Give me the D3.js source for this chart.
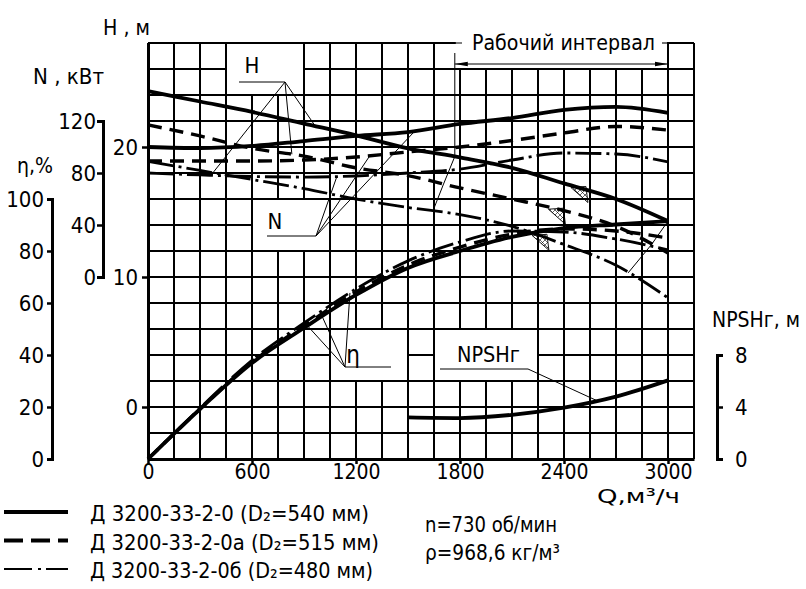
<!DOCTYPE html>
<html><head><meta charset="utf-8">
<script src="https://cdn.jsdelivr.net/npm/d3@7"></script>
<style>
body{margin:0;background:#fff}
svg{display:block}
text{font-family:"Liberation Sans Narrow","DejaVu Sans Condensed","Arial Narrow",sans-serif;fill:#000}
</style>
</head><body>
<svg id="c" width="806" height="589"></svg>
<script>
// ---------- data ----------
const Q = [0,300,600,900,1200,1500,1800,2100,2400,2700,3000];
const H540 = [24.3,23.5,22.7,21.8,20.9,19.9,19.2,18.4,17.2,16.0,14.3];
const H515 = [21.7,20.85,19.9,19.3,18.4,17.8,16.85,16.0,15.1,13.9,11.85];
const H480 = [18.9,18.2,17.5,16.8,16.0,15.35,14.8,13.9,12.5,10.9,8.4];
const N540 = [100,99.2,100.8,104.6,108.5,111.5,117.7,122.3,128.5,130.8,126.2];
const N515 = [89.2,89.2,89.2,90,92.3,96.2,100,105,110.8,115.8,113];
const N480 = [80,78.5,77.3,76.9,77.7,80,83,90,95.4,94.6,88.5];
const E540 = [0,19.2,36.9,50.4,63.1,73.5,80,85.4,88.8,90.2,91.5];
const E515 = [0,19.2,37.3,51.2,64.2,74.6,81.5,86.5,88.5,87.7,85];
const E480 = [0,19.6,38,52.3,65.4,76.2,83.5,87.7,87.3,84.6,80.4];
const Qnp = [1500,1800,2100,2400,2700,3000];
const NPSH = [3.2,3.15,3.4,3.95,4.8,6.05];
const xTicks = [0,600,1200,1800,2400,3000];
const hTicks = [0,10,20];
const nTicks = [0,40,80,120];
const eTicks = [0,20,40,60,80,100];
const pTicks = [0,4,8];
const workRange = [1770,3000];
const legendRows = [
  {label:"Д 3200-33-2-0 (D₂=540 мм)", style:"solid", w:279},
  {label:"Д 3200-33-2-0а (D₂=515 мм)", style:"dashed", w:289},
  {label:"Д 3200-33-2-0б (D₂=480 мм)", style:"dashdot", w:283}
];

// ---------- setup ----------
const svg = d3.select("#c");
svg.append("rect").attr("width",806).attr("height",589).attr("fill","#fff");
const defs = svg.append("defs");
const pat = defs.append("pattern").attr("id","hatch").attr("width",5).attr("height",5)
  .attr("patternUnits","userSpaceOnUse");
pat.append("path").attr("d","M0,0L5,5M5,0L0,5").attr("stroke","#000").attr("stroke-width",0.6);

const x = d3.scaleLinear().domain([0,3150]).range([148,694]);
const yH = d3.scaleLinear().domain([-4,28]).range([459,43]);
const yN = d3.scaleLinear().domain([0,120]).range([277,121]);
const yE = d3.scaleLinear().domain([0,100]).range([459,199]);
const yP = d3.scaleLinear().domain([0,8]).range([459,355]);

const styles = {
  solid:{w:3.8, dash:null},
  dashed:{w:3.4, dash:"14,8"},
  dashdot:{w:2.8, dash:"26,5,3,5"}
};

// ---------- grid ----------
const grid = svg.append("g").attr("stroke","#000").attr("stroke-width",1.1).attr("shape-rendering","crispEdges");
grid.selectAll("line.v").data(d3.range(0,3151,150)).join("line").attr("class","v")
  .attr("x1",d=>x(d)).attr("x2",d=>x(d)).attr("y1",yH(28)).attr("y2",yH(-4));
grid.selectAll("line.h").data(d3.range(-4,28.01,2)).join("line").attr("class","h")
  .attr("x1",x(0)).attr("x2",x(3150)).attr("y1",d=>yH(d)).attr("y2",d=>yH(d));

// white boxes behind labels (in grid units)
const boxes = [[450,900,24,28],[600,1050,12,16],[1050,1500,2,6],[1650,2250,2,6]];
svg.append("g").selectAll("rect").data(boxes).join("rect")
  .attr("x",d=>x(d[0])+1).attr("y",d=>yH(d[3])+1)
  .attr("width",d=>x(d[1])-x(d[0])-2).attr("height",d=>yH(d[2])-yH(d[3])-2)
  .attr("fill","#fff");
svg.append("rect").attr("x",x(workRange[0])+1).attr("y",26)
  .attr("width",x(workRange[1])-x(workRange[0])-2).attr("height",yH(26)-27).attr("fill","#fff");

// ---------- axes ----------
function styleAxis(g, fs){
  g.attr("font-family",null).attr("font-size",fs);
  g.selectAll(".domain").attr("stroke","#000").attr("stroke-width",3);
  g.selectAll(".tick line").attr("stroke","#000").attr("stroke-width",2.5);
  g.selectAll(".tick text").attr("fill","#000");
}
const fmt = d3.format("d");
svg.append("g").attr("transform",`translate(0,${yH(-4)})`)
  .call(d3.axisBottom(x).tickValues(xTicks).tickFormat(fmt).tickSize(5).tickSizeOuter(0).tickPadding(0))
  .call(g=>styleAxis(g,21));
svg.append("g").attr("transform",`translate(${x(0)},0)`)
  .call(d3.axisLeft(yH).tickValues(hTicks).tickFormat(fmt).tickSize(6).tickSizeOuter(0).tickPadding(4))
  .call(g=>styleAxis(g,22));
svg.append("g").attr("transform","translate(103,0)")
  .call(d3.axisLeft(yN).tickValues(nTicks).tickFormat(fmt).tickSize(6).tickSizeOuter(6).tickPadding(1))
  .call(g=>styleAxis(g,22));
svg.append("g").attr("transform","translate(52,0)")
  .call(d3.axisLeft(yE).tickValues(eTicks).tickFormat(fmt).tickSize(5).tickSizeOuter(5).tickPadding(3))
  .call(g=>styleAxis(g,22));
svg.append("g").attr("transform","translate(717,0)")
  .call(d3.axisRight(yP).tickValues(pTicks).tickFormat(fmt).tickSize(6).tickSizeOuter(6).tickPadding(12))
  .call(g=>styleAxis(g,22));

// ---------- curves ----------
const curves = [
  {v:H540,s:yH,st:"solid"},{v:H515,s:yH,st:"dashed"},{v:H480,s:yH,st:"dashdot"},
  {v:N540,s:yN,st:"solid"},{v:N515,s:yN,st:"dashed"},{v:N480,s:yN,st:"dashdot"},
  {v:E540,s:yE,st:"solid"},{v:E515,s:yE,st:"dashed"},{v:E480,s:yE,st:"dashdot"}
];
const cg = svg.append("g").attr("fill","none").attr("stroke","#000");
curves.forEach(c=>{
  const ln = d3.line().x((d,i)=>x(Q[i])).y(d=>c.s(d)).curve(d3.curveMonotoneX);
  cg.append("path").attr("d",ln(c.v)).attr("stroke-width",styles[c.st].w)
    .attr("stroke-dasharray",styles[c.st].dash);
});
const lnP = d3.line().x((d,i)=>x(Qnp[i])).y(d=>yP(d)).curve(d3.curveMonotoneX);
cg.append("path").attr("d",lnP(NPSH)).attr("stroke-width",3.8);

// ---------- annotations ----------
const ip = arr => d3.scaleLinear().domain(Q).range(arr);
const pt = (arr,s,q) => [x(q), s(ip(arr)(q))];
const ann = svg.append("g").attr("stroke","#000").attr("fill","none").attr("stroke-width",1);
function leaderFan(apex, under, targets){
  ann.append("line").attr("x1",under[0]).attr("x2",under[1]).attr("y1",apex[1]).attr("y2",apex[1]);
  targets.forEach(t=>ann.append("line").attr("x1",apex[0]).attr("y1",apex[1]).attr("x2",t[0]).attr("y2",t[1]));
}
leaderFan([285,82],[239,285],[pt(H480,yH,375),pt(H515,yH,830),pt(H540,yH,965)]);
leaderFan([316,236],[267,316],[pt(N480,yN,1090),pt(N515,yN,1280),pt(N540,yN,1540)]);
leaderFan([345,367],[345,391],[pt(E540,yE,920),pt(E515,yE,1000),pt(E480,yE,1165)]);
ann.append("line").attr("x1",440).attr("x2",528).attr("y1",369).attr("y2",369);
const npI = d3.scaleLinear().domain(Qnp).range(NPSH);
ann.append("line").attr("x1",528).attr("y1",369).attr("x2",x(2590)).attr("y2",yP(npI(2590)));

// working interval
const wl = x(workRange[0]), wr = x(workRange[1]);
ann.append("line").attr("x1",148).attr("x2",462).attr("y1",yH(28)).attr("y2",yH(28)).attr("stroke-width",1.1);
ann.append("line").attr("x1",662).attr("x2",694).attr("y1",yH(28)).attr("y2",yH(28)).attr("stroke-width",1.1);
ann.append("line").attr("x1",wr).attr("x2",wr).attr("y1",yH(28)).attr("y2",yH(26));
ann.append("line").attr("x1",wl).attr("x2",wr).attr("y1",64).attr("y2",64);
svg.append("path").attr("d",`M${wl},64L${wl+13},61.8L${wl+13},66.2Z M${wr},64L${wr-13},61.8L${wr-13},66.2Z`).attr("fill","#000");
const leftB = [[wl,53],pt(H540,yH,workRange[0]),pt(H515,yH,1705),pt(H480,yH,1644)];
ann.append("path").attr("d",d3.line()(leftB));
const rightB = [pt(H540,yH,3000),pt(H515,yH,2905),pt(H480,yH,2770)];
ann.append("path").attr("d",d3.line()(rightB));

// hatched triangles (optimum points)
[[H540,2440],[H515,2310],[H480,2215]].forEach(([arr,q])=>{
  const [px,py] = pt(arr,yH,q);
  svg.append("path").attr("d",`M${px},${py+2}L${px+15},${py+1}L${px+17},${py+17}Z`)
    .attr("fill","url(#hatch)").attr("stroke","#000").attr("stroke-width",0.9);
});

// ---------- texts ----------
function txt(s, x0, y0, opts={}){
  const t = svg.append("text").attr("x",x0).attr("y",y0).attr("font-size",opts.fs||22).text(s);
  if(opts.len){ t.attr("textLength",opts.len).attr("lengthAdjust","spacingAndGlyphs"); }
  if(opts.anchor) t.attr("text-anchor",opts.anchor);
  return t;
}
txt("H , м",103,35,{len:47});
txt("N , кВт",33,84,{len:71});
txt("η,%",17,173,{len:36});
txt("Рабочий интервал",472,50,{len:183});
txt("H",252,73,{anchor:"middle"});
txt("N",275,229,{anchor:"middle"});
txt("η",353,363,{anchor:"middle",fs:24});
txt("NPSHг",457,362,{len:63});
txt("NPSHг, м",712,327,{len:88});
txt("Q,м³/ч",597,503,{len:83,fs:20});

// legend
legendRows.forEach((r,i)=>{
  const yl = 512 + i*28.5;
  svg.append("line").attr("x1",4).attr("x2",68).attr("y1",yl).attr("y2",yl)
    .attr("stroke","#000").attr("stroke-width",r.style==="dashdot"?2:4)
    .attr("stroke-dasharray",r.style==="dashed"?"19,8":(r.style==="dashdot"?"28,6,3,5":null));
  txt(r.label,90,yl+9,{len:r.w});
});
txt("n=730 об/мин",425,532,{len:132});
txt("ρ=968,6 кг/м³",425,560,{len:135});
</script>
</body></html>
